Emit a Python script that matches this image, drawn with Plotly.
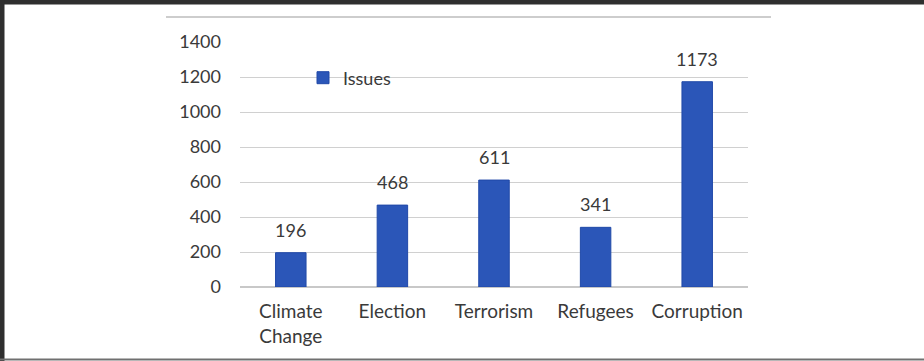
import plotly.graph_objects as go

categories = ["Climate<br>Change", "Election", "Terrorism", "Refugees", "Corruption"]
values = [196, 468, 611, 341, 1173]
series_name = "Issues"
y_ticks = [0, 200, 400, 600, 800, 1000, 1200, 1400]

FONT = "Lato"
TXT = "#3a3a3a"

fig = go.Figure()
fig.add_trace(go.Bar(
    x=categories, y=values, name=series_name,
    marker=dict(color="#2B56B8", line=dict(color="#2049A8", width=1)),
    showlegend=True,
))

for c, v in zip(categories, values):
    fig.add_annotation(x=c, y=v, text=str(v), showarrow=False,
                       yanchor="middle", yshift=23,
                       font=dict(family=FONT, size=18, color=TXT))

# pixel -> paper helpers (plot area 240..748 x, 42..287 y)
def px(p):
    return (p - 240) / 508.0

def py(p):
    return (287 - p) / 245.0

shapes = [
    dict(type="line", xref="paper", yref="paper", x0=px(166), x1=px(771), y0=py(17), y1=py(17),
         line=dict(color="#BDBDBD", width=1.5)),
    dict(type="rect", xref="paper", yref="paper", x0=px(0), x1=px(924), y0=py(0), y1=py(4.5),
         fillcolor="#2f2f2f", line=dict(width=0)),
    dict(type="rect", xref="paper", yref="paper", x0=px(0), x1=px(4.5), y0=py(0), y1=py(361),
         fillcolor="#2f2f2f", line=dict(width=0)),
    dict(type="line", xref="paper", yref="paper", x0=px(0), x1=px(924), y0=py(359.5), y1=py(359.5),
         line=dict(color="#707070", width=2)),
]

fig.update_layout(
    width=924, height=361,
    margin=dict(l=240, r=176, t=42, b=74),
    paper_bgcolor="white", plot_bgcolor="white",
    bargap=0.7,
    font=dict(family=FONT, size=18, color=TXT),
    shapes=shapes,
    legend=dict(x=px(303), y=py(78), xanchor="left", yanchor="middle",
                bgcolor="rgba(0,0,0,0)", font=dict(family=FONT, size=18, color=TXT),
                itemwidth=30),
    xaxis=dict(showgrid=False, showline=False, ticks="", ticklabelstandoff=11,
               tickfont=dict(family=FONT, size=19, color=TXT)),
    yaxis=dict(range=[0, 1400], tickvals=y_ticks, showgrid=True, gridcolor="#D0D0D0", gridwidth=1,
               zeroline=True, zerolinecolor="#C8C8C8", zerolinewidth=1.5,
               ticks="", ticklabelstandoff=18,
               tickfont=dict(family=FONT, size=18, color=TXT)),
)

fig.write_html("out.html")
